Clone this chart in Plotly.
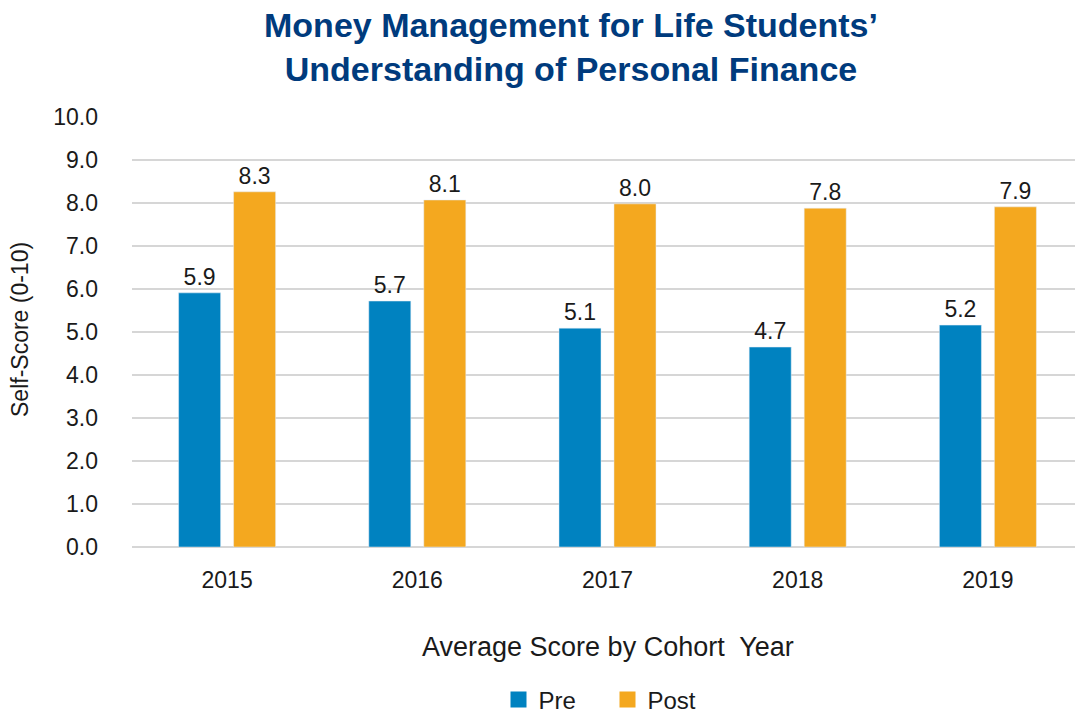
import plotly.graph_objects as go

years = ["2015", "2016", "2017", "2018", "2019"]
pre_values = [5.91, 5.72, 5.09, 4.65, 5.16]
post_values = [8.26, 8.07, 7.98, 7.88, 7.91]
pre_labels = ["5.9", "5.7", "5.1", "4.7", "5.2"]
post_labels = ["8.3", "8.1", "8.0", "7.8", "7.9"]
y_ticks = [0, 1, 2, 3, 4, 5, 6, 7, 8, 9, 10]

PRE_COLOR = "#0082C0"
POST_COLOR = "#F4A81F"
FONT = "Liberation Sans, Arial, Helvetica, sans-serif"
TEXT_COLOR = "#1a1a1a"

fig = go.Figure()
fig.add_trace(go.Bar(
    x=years, y=pre_values, name="Pre", marker_color=PRE_COLOR, showlegend=False,
    text=pre_labels, textposition="outside", cliponaxis=False,
    textfont=dict(size=23, color=TEXT_COLOR, family=FONT),
))
fig.add_trace(go.Bar(
    x=years, y=post_values, name="Post", marker_color=POST_COLOR, showlegend=False,
    text=post_labels, textposition="outside", cliponaxis=False,
    textfont=dict(size=23, color=TEXT_COLOR, family=FONT),
))
# legend entries with larger square swatches
for nm, col in [("Pre", PRE_COLOR), ("Post", POST_COLOR)]:
    fig.add_trace(go.Scatter(
        x=[None], y=[None], mode="markers", name=nm,
        marker=dict(symbol="square", size=20, color=col),
    ))

W, H = 1075, 705
L, T, B = 124, 109, 166
plot_w = W - L
plot_h = H - T - B
bottom_px = T + plot_h


def py(px):
    return (bottom_px - px) / plot_h


def px_(x):
    return (x - L) / plot_w


fig.update_layout(
    width=W, height=H,
    paper_bgcolor="white", plot_bgcolor="white",
    margin=dict(l=L, r=0, t=T, b=B, autoexpand=False),
    barmode="group", bargap=0.4217, bargroupgap=0.236,
    font=dict(family=FONT, color=TEXT_COLOR),
    title=dict(
        text="<b>Money Management for Life Students’<br>Understanding of Personal Finance</b>",
        xref="container", x=563 / W, xanchor="center",
        yref="container", y=1 - 29 / H, yanchor="middle",
        font=dict(size=34, color="#003B7D", family=FONT),
    ),
    xaxis=dict(
        tickfont=dict(size=23), showgrid=False, showline=False, ticks="",
        ticklabelstandoff=17,
    ),
    yaxis=dict(
        range=[0, 10], tickvals=y_ticks, tickformat=".1f",
        tickfont=dict(size=23), showgrid=True, gridcolor="#D6D6D6", gridwidth=2,
        zeroline=True, zerolinecolor="#D6D6D6", zerolinewidth=2, ticks="",
        ticklabelstandoff=33,
    ),
    legend=dict(orientation="h", x=0.5, xanchor="center", y=py(692), yanchor="middle",
                font=dict(size=24), itemsizing="trace", traceorder="normal",
                entrywidth=64, entrywidthmode="pixels"),
    annotations=[
        dict(text="Average Score by Cohort  Year", x=0.5, xref="paper",
             y=py(639), yref="paper", xanchor="center", yanchor="middle", showarrow=False,
             font=dict(size=27, color=TEXT_COLOR, family=FONT)),
        dict(text="Self-Score (0-10)", x=px_(12), xref="paper",
             y=py(322), yref="paper", xanchor="center", yanchor="middle", showarrow=False,
             textangle=-90, font=dict(size=23, color=TEXT_COLOR, family=FONT)),
    ],
)

fig.write_html("out.html")
